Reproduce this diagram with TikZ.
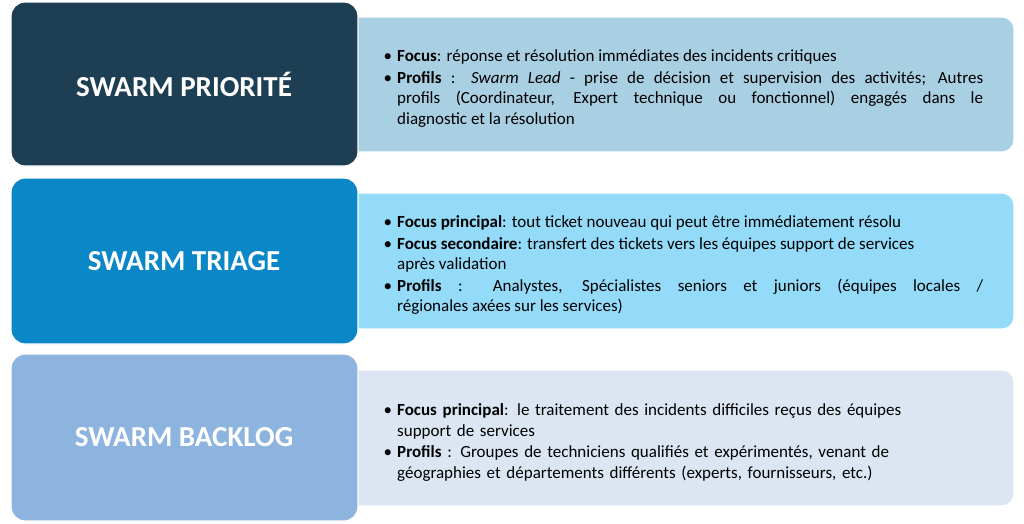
\documentclass[tikz,border=0pt]{standalone}
\usepackage{fontspec}
\setmainfont{Carlito}
\usepackage{enumitem}
\usetikzlibrary{positioning}
\definecolor{prioDark}{HTML}{1D3E53}
\definecolor{prioLight}{HTML}{A9CFE3}
\definecolor{triDark}{HTML}{0A87C7}
\definecolor{triLight}{HTML}{93DBF8}
\definecolor{backDark}{HTML}{8DB4DE}
\definecolor{backLight}{HTML}{DCE6F2}
\newcommand{\bodyfont}{\fontsize{17}{20.5}\selectfont}
\setlist[itemize]{leftmargin=14pt,label=\textbullet,itemsep=1pt,topsep=0pt,parsep=0pt,partopsep=0pt}

\begin{document}
\begin{tikzpicture}[x=1pt,y=-1pt,
    titlebox/.style={draw=white,line width=1.2pt,rounded corners=14pt},
    titletext/.style={text=white,font=\fontsize{29}{32}\selectfont\bfseries},
    infobox/.style={draw=white,line width=1.2pt,rounded corners=12pt},
    infotext/.style={anchor=west,text width=600pt,align=justify,inner sep=0pt,font=\bodyfont}]
    \useasboundingbox (0,0) rectangle (1024,523);
    % right boxes first, title boxes overlap them
    \filldraw[infobox,fill=prioLight] (340,17) rectangle (1014,152);
    \filldraw[infobox,fill=triLight] (340,193) rectangle (1014,329);
    \filldraw[infobox,fill=backLight] (340,370) rectangle (1014,506);
    \filldraw[titlebox,fill=prioDark] (11,2) rectangle (358,166);
    \filldraw[titlebox,fill=triDark] (11,178) rectangle (358,344);
    \filldraw[titlebox,fill=backDark] (11,354) rectangle (358,521);
    \node[titletext] (prio) at (184,84) {SWARM PRIORITÉ};
    \node[titletext] (tri) at (184,261) {SWARM TRIAGE};
    \node[titletext] (back) at (184,437) {SWARM BACKLOG};
    \node[infotext] (prioText) at (383,84) {\begin{itemize}
        \item \textbf{Focus}: réponse et résolution immédiates des incidents critiques
        \item \textbf{Profils} : \textit{Swarm Lead} - prise de décision et supervision des activités; Autres\linebreak profils (Coordinateur, Expert technique ou fonctionnel) engagés dans le\linebreak diagnostic et la résolution
    \end{itemize}};
    \node[infotext] (triText) at (383,261) {\begin{itemize}
        \item \textbf{Focus principal}: tout ticket nouveau qui peut être immédiatement résolu
        \item \textbf{Focus secondaire}: transfert des tickets vers les équipes support de services\\ après validation
        \item \textbf{Profils} : Analystes, Spécialistes seniors et juniors (équipes locales /\linebreak régionales axées sur les services)
    \end{itemize}};
    \node[infotext,text width=590pt,align=left] (backText) at (383,438) {\begin{itemize}
        \item \textbf{Focus principal}: le traitement des incidents difficiles reçus des équipes\\ support de services
        \item \textbf{Profils} : Groupes de techniciens qualifiés et expérimentés, venant de\\ géographies et départements différents (experts, fournisseurs, etc.)
    \end{itemize}};
\end{tikzpicture}
\end{document}
